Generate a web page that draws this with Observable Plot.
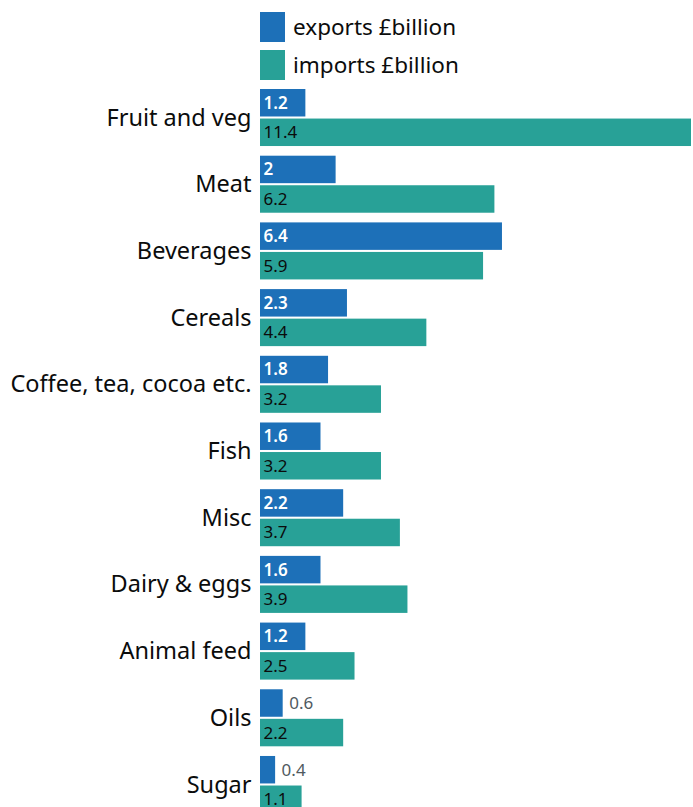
<!DOCTYPE html>
<html>
<head>
<meta charset="utf-8">
<script src="https://cdn.jsdelivr.net/npm/d3@7"></script>
<script src="https://cdn.jsdelivr.net/npm/@observablehq/plot@0.6"></script>
<style>
  html, body { margin: 0; padding: 0; width: 693px; height: 807px; overflow: hidden; background: #fff; font-family: "Noto Sans", sans-serif; color: #0b0c0c; }
  #legend { position: relative; height: 84px; }
  .item { position: absolute; left: 260px; display: flex; align-items: center; font-size: 22.5px; }
  .sw { width: 25px; height: 30px; margin-right: 8px; }
  #chart svg { display: block; }
</style>
</head>
<body>
<div id="legend"></div>
<div id="chart"></div>
<script>
const categories = ["Fruit and veg","Meat","Beverages","Cereals","Coffee, tea, cocoa etc.","Fish","Misc","Dairy & eggs","Animal feed","Oils","Sugar"];
const exportsValues = [1.2, 2, 6.4, 2.3, 1.8, 1.6, 2.2, 1.6, 1.2, 0.6, 0.4];
const importsValues = [11.4, 6.2, 5.9, 4.4, 3.2, 3.2, 3.7, 3.9, 2.5, 2.2, 1.1];
const seriesNames = ["exports £billion", "imports £billion"];
const seriesColors = ["#1d70b8", "#28a197"];

const data = [];
categories.forEach((c, i) => {
  data.push({category: c, series: seriesNames[0], value: exportsValues[i]});
  data.push({category: c, series: seriesNames[1], value: importsValues[i]});
});

// legend
const legend = document.getElementById("legend");
seriesNames.forEach((s, i) => {
  const it = document.createElement("div");
  it.className = "item";
  it.style.top = (11 + i * 38) + "px";
  it.innerHTML = `<div class="sw" style="background:${seriesColors[i]}"></div><span>${s}</span>`;
  legend.appendChild(it);
});

const isExp = d => d.series === seriesNames[0];
const inside = d => d.value >= 1;

const chart = Plot.plot({
  width: 693,
  height: 729,
  marginLeft: 260,
  marginRight: 2,
  marginTop: 5,
  marginBottom: 0,
  style: {fontFamily: "Noto Sans, sans-serif", color: "#0b0c0c", background: "#fff"},
  x: {domain: [0, 11.4], axis: null},
  y: {domain: seriesNames, axis: null, paddingInner: 0.07, paddingOuter: 0, round: false},
  fy: {domain: categories, paddingInner: 0.145, paddingOuter: 0, label: null, round: false},
  color: {domain: seriesNames, range: seriesColors},
  marks: [
    Plot.axisFy({anchor: "left", tickSize: 0, tickPadding: 9, fontSize: 23.5, label: null, fill: "#0b0c0c"}),
    Plot.barX(data, {x: "value", y: "series", fy: "category", fill: "series"}),
    Plot.text(data.filter(d => isExp(d) && inside(d)), {x: 0, y: "series", fy: "category", text: d => String(d.value), textAnchor: "start", dx: 3, fill: "white", fontSize: 17, fontWeight: 600}),
    Plot.text(data.filter(d => !isExp(d) && inside(d)), {x: 0, y: "series", fy: "category", text: d => String(d.value), textAnchor: "start", dx: 3, fill: "#0b0c0c", fontSize: 17}),
    Plot.text(data.filter(d => !inside(d)), {x: "value", y: "series", fy: "category", text: d => String(d.value), textAnchor: "start", dx: 6, fill: "#505a5f", fontSize: 17})
  ]
});
document.getElementById("chart").appendChild(chart);
</script>
</body>
</html>
